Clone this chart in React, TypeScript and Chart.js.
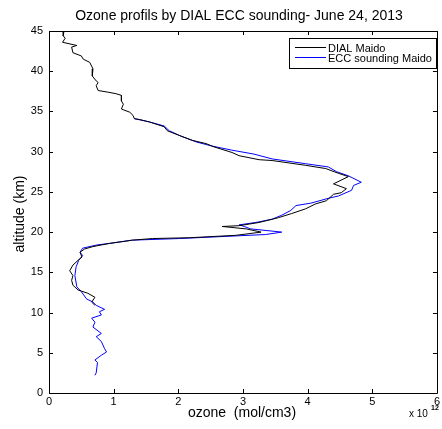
import React, { useEffect, useRef } from "react";
import { Chart, registerables } from "chart.js";

Chart.register(...registerables);

// ozone in units of 1e12 mol/cm3, altitude in km
const dialOzone = [
  0.23, 0.22, 0.25, 0.21, 0.43, 0.35, 0.37, 0.5, 0.53, 0.63, 0.68, 0.67, 0.73, 0.76, 0.73, 0.76,
  0.91, 1.04, 1.12, 1.12, 1.15, 1.12, 1.25, 1.3, 1.32, 1.4, 1.55, 1.78, 1.83, 2.02, 2.22, 2.43,
  2.55, 2.83, 2.94, 3.25, 3.45, 3.97, 4.28, 4.48, 4.63, 4.4, 4.6, 4.52, 4.4, 4.29, 4.12, 3.97,
  3.75, 3.55, 3.25, 2.94, 2.68, 3.05, 3.28, 2.89, 2.17, 1.6, 1.29, 0.94, 0.68, 0.55, 0.48, 0.51,
  0.45, 0.37, 0.32, 0.37, 0.35, 0.37, 0.45, 0.6, 0.71, 0.66, 0.71,
];
const dialAltitude = [
  44.9, 44.4, 44.1, 43.6, 43.2, 43.0, 42.3, 41.9, 41.5, 41.1, 40.3, 39.4, 38.8, 38.6, 38.2, 37.6,
  37.4, 37.2, 37.0, 36.3, 35.9, 35.3, 34.9, 34.5, 34.1, 34.0, 33.7, 33.1, 32.6, 32.0, 31.4, 31.0,
  30.6, 29.9, 29.5, 29.0, 28.9, 28.3, 27.9, 27.3, 26.9, 26.0, 25.4, 24.9, 24.7, 23.9, 23.5, 22.9,
  22.3, 21.8, 21.2, 20.8, 20.7, 20.4, 20.0, 19.6, 19.3, 19.2, 19.0, 18.6, 18.2, 17.9, 17.5, 16.9,
  16.5, 15.9, 15.2, 14.6, 14.0, 13.4, 12.8, 12.4, 11.9, 11.3, 10.9,
];

const eccOzone = [
  1.32, 1.55, 1.78, 1.86, 2.05, 2.28, 2.52, 2.82, 3.17, 3.45, 3.97, 4.32, 4.45, 4.63, 4.83, 4.71,
  4.68, 4.48, 4.32, 4.05, 3.82, 3.74, 3.6, 3.45, 3.2, 2.94, 3.02, 3.12, 3.6, 3.35, 2.02, 1.29,
  0.94, 0.74, 0.52, 0.48, 0.52, 0.46, 0.42, 0.4, 0.43, 0.5, 0.58, 0.68, 0.73, 0.86, 0.78, 0.81,
  0.66, 0.71, 0.68, 0.81, 0.73, 0.81, 0.86, 0.89, 0.81, 0.71, 0.75, 0.73, 0.71,
];
const eccAltitude = [
  34.1, 33.7, 33.2, 32.6, 31.9, 31.2, 30.7, 30.2, 29.7, 29.1, 28.5, 28.1, 27.5, 27.0, 26.2, 25.8,
  25.2, 24.5, 24.2, 23.6, 23.3, 22.7, 22.1, 21.6, 21.2, 20.9, 20.7, 20.4, 20.0, 19.7, 19.2, 19.0,
  18.6, 18.4, 18.0, 17.5, 17.1, 16.5, 15.7, 14.6, 13.2, 12.6, 11.7, 11.3, 10.9, 10.4, 10.1, 9.7,
  9.3, 8.8, 8.2, 7.4, 7.0, 6.4, 5.5, 5.1, 4.7, 4.1, 3.8, 2.5, 2.2,
];

const xTicks = [0, 1, 2, 3, 4, 5, 6];
const yTicks = [0, 5, 10, 15, 20, 25, 30, 35, 40, 45];

const seriesLabels = ["DIAL Maido", "ECC sounding Maido"];
const titleText = "Ozone profils by DIAL ECC sounding- June 24, 2013";
const xTitle = "ozone  (mol/cm3)";
const yTitle = "altitude (km)";

const FONT = "'Liberation Sans', Arial, Helvetica, sans-serif";

const decorPlugin = {
  id: "matlabDecor",
  afterDraw(chart: any) {
    const { ctx, chartArea } = chart;
    const { left, right, top, bottom } = chartArea;
    const xs = chart.scales.x;
    const ys = chart.scales.y;
    ctx.save();
    // box
    ctx.strokeStyle = "#000";
    ctx.lineWidth = 1;
    ctx.beginPath();
    ctx.rect(Math.round(left) + 0.5, Math.round(top) + 0.5, Math.round(right - left), Math.round(bottom - top));
    ctx.stroke();
    // inward ticks
    const tl = 4;
    ctx.beginPath();
    xTicks.forEach((v) => {
      const px = Math.round(xs.getPixelForValue(v)) + 0.5;
      ctx.moveTo(px, bottom);
      ctx.lineTo(px, bottom - tl);
      ctx.moveTo(px, top);
      ctx.lineTo(px, top + tl);
    });
    yTicks.forEach((v) => {
      const py = Math.round(ys.getPixelForValue(v)) + 0.5;
      ctx.moveTo(left, py);
      ctx.lineTo(left + tl, py);
      ctx.moveTo(right, py);
      ctx.lineTo(right - tl, py);
    });
    ctx.stroke();

    // title
    ctx.fillStyle = "#000";
    ctx.textAlign = "center";
    ctx.textBaseline = "middle";
    ctx.font = `14px ${FONT}`;
    ctx.fillText(titleText, 239, 16);
    // x title
    ctx.fillText(xTitle, 242, 413);
    // y title
    ctx.save();
    ctx.translate(20, 214);
    ctx.rotate(-Math.PI / 2);
    ctx.fillText(yTitle, 0, 0);
    ctx.restore();
    // exponent
    ctx.textAlign = "left";
    ctx.font = `10px ${FONT}`;
    ctx.fillText("x 10", 409, 414);
    ctx.font = `bold 7px ${FONT}`;
    ctx.fillText("12", 431, 408);

    // legend
    const lx = 289.5, ly = 38.5, lw = 147, lh = 30;
    ctx.fillStyle = "#fff";
    ctx.fillRect(lx, ly, lw, lh);
    ctx.strokeStyle = "#000";
    ctx.strokeRect(lx, ly, lw, lh);
    const rows = [47.5, 57.5];
    chart.data.datasets.forEach((d: any, i: number) => {
      ctx.strokeStyle = d.borderColor;
      ctx.lineWidth = 1;
      ctx.beginPath();
      ctx.moveTo(295, rows[i]);
      ctx.lineTo(326, rows[i]);
      ctx.stroke();
      ctx.fillStyle = "#000";
      ctx.font = `11px ${FONT}`;
      ctx.textBaseline = "middle";
      ctx.fillText(d.label, 328, rows[i] + 1);
    });
    ctx.restore();
  },
};

export default function App() {
  const ref = useRef<HTMLCanvasElement | null>(null);
  useEffect(() => {
    if (!ref.current) return;
    const chart = new Chart(ref.current, {
      type: "scatter",
      data: {
        datasets: [
          {
            label: seriesLabels[0],
            data: dialOzone.map((x, i) => ({ x, y: dialAltitude[i] })),
            borderColor: "#000000",
            backgroundColor: "#000000",
            borderWidth: 1,
            showLine: true,
            pointRadius: 0,
            tension: 0,
          },
          {
            label: seriesLabels[1],
            data: eccOzone.map((x, i) => ({ x, y: eccAltitude[i] })),
            borderColor: "#0000ff",
            backgroundColor: "#0000ff",
            borderWidth: 1,
            showLine: true,
            pointRadius: 0,
            tension: 0,
          },
        ],
      },
      options: {
        responsive: false,
        animation: false,
        devicePixelRatio: 1,
        layout: { padding: { left: 0, top: 31, right: 5, bottom: 0 } },
        plugins: {
          legend: { display: false },
          title: { display: false },
          tooltip: { enabled: false },
        },
        scales: {
          x: {
            type: "linear",
            min: 0,
            max: 6,
            grid: { display: false, drawTicks: false },
            border: { display: false },
            afterBuildTicks: (s: any) => {
              s.ticks = xTicks.map((v) => ({ value: v }));
            },
            afterFit: (s: any) => {
              s.height = 36;
            },
            ticks: {
              padding: 2,
              color: "#000",
              font: { family: FONT, size: 11 },
              maxRotation: 0,
              autoSkip: false,
            },
          },
          y: {
            type: "linear",
            min: 0,
            max: 45,
            grid: { display: false, drawTicks: false },
            border: { display: false },
            afterBuildTicks: (s: any) => {
              s.ticks = yTicks.map((v) => ({ value: v }));
            },
            afterFit: (s: any) => {
              s.width = 49;
            },
            ticks: {
              padding: 6,
              color: "#000",
              font: { family: FONT, size: 11 },
              autoSkip: false,
            },
          },
        },
      },
      plugins: [decorPlugin],
    } as any);
    return () => chart.destroy();
  }, []);
  return (
    <div style={{ position: "fixed", left: 0, top: 0, width: 442, height: 429, background: "#fff" }}>
      <canvas ref={ref} width={442} height={429} style={{ display: "block", width: 442, height: 429 }} />
    </div>
  );
}
